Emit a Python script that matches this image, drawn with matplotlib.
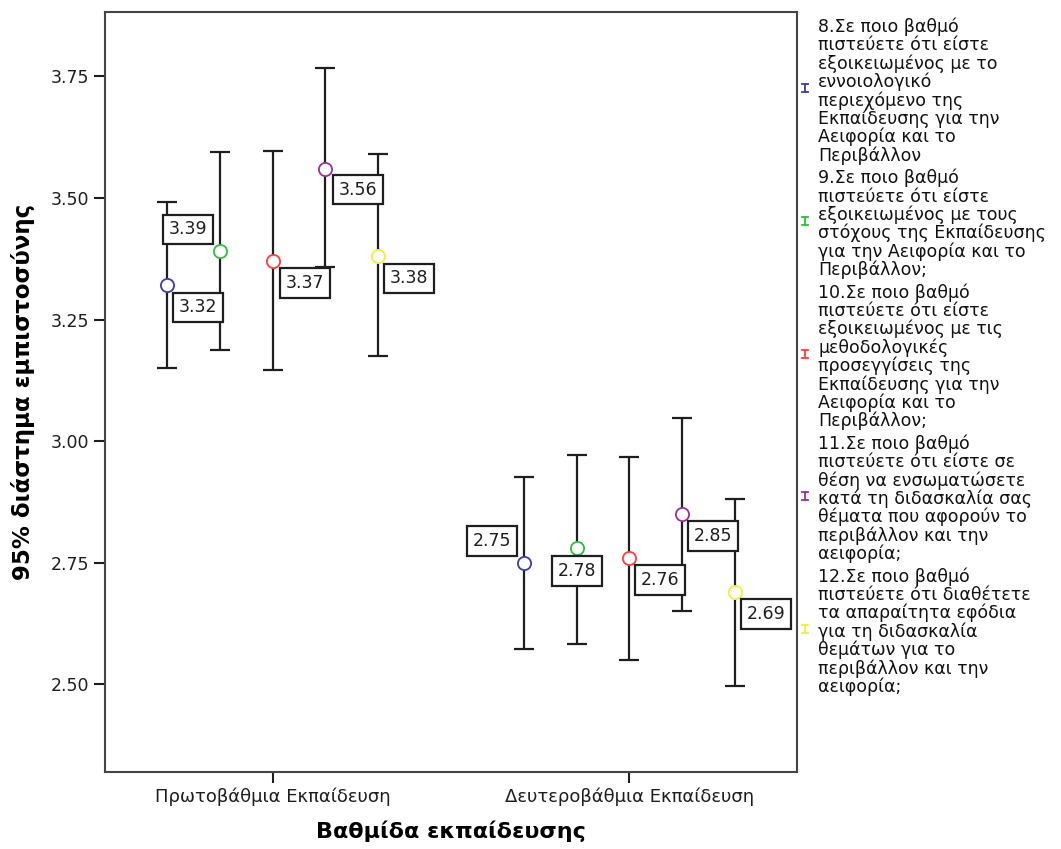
import matplotlib
matplotlib.use("Agg")
import matplotlib.pyplot as plt
from matplotlib.lines import Line2D
import numpy as np

# groups on the x axis
categories = ["Πρωτοβάθμια Εκπαίδευση", "Δευτεροβάθμια Εκπαίδευση"]

# means and 95% CI bounds, one list per question (primary, secondary)
means = {
    "q8":  [3.32, 2.75],
    "q9":  [3.39, 2.78],
    "q10": [3.37, 2.76],
    "q11": [3.56, 2.85],
    "q12": [3.38, 2.69],
}
ci_low = {
    "q8":  [3.150, 2.572],
    "q9":  [3.187, 2.584],
    "q10": [3.146, 2.551],
    "q11": [3.357, 2.650],
    "q12": [3.174, 2.496],
}
ci_high = {
    "q8":  [3.491, 2.926],
    "q9":  [3.594, 2.971],
    "q10": [3.596, 2.967],
    "q11": [3.766, 3.047],
    "q12": [3.590, 2.882],
}

legend_labels = {
    "q8": "8.Σε ποιο βαθμό\nπιστεύετε ότι είστε\nεξοικειωμένος με το\nεννοιολογικό\nπεριεχόμενο της\nΕκπαίδευσης για την\nΑειφορία και το\nΠεριβάλλον",
    "q9": "9.Σε ποιο βαθμό\nπιστεύετε ότι είστε\nεξοικειωμένος με τους\nστόχους της Εκπαίδευσης\nγια την Αειφορία και το\nΠεριβάλλον;",
    "q10": "10.Σε ποιο βαθμό\nπιστεύετε ότι είστε\nεξοικειωμένος με τις\nμεθοδολογικές\nπροσεγγίσεις της\nΕκπαίδευσης για την\nΑειφορία και το\nΠεριβάλλον;",
    "q11": "11.Σε ποιο βαθμό\nπιστεύετε ότι είστε σε\nθέση να ενσωματώσετε\nκατά τη διδασκαλία σας\nθέματα που αφορούν το\nπεριβάλλον και την\nαειφορία;",
    "q12": "12.Σε ποιο βαθμό\nπιστεύετε ότι διαθέτετε\nτα απαραίτητα εφόδια\nγια τη διδασκαλία\nθεμάτων για το\nπεριβάλλον και την\nαειφορία;",
}

colors = {"q8": "#3c3ca6", "q9": "#2ebd3c", "q10": "#ff3b3b",
          "q11": "#9a2f9a", "q12": "#f2ee3a"}

# where each value box sits relative to its point (pixels), per question / group
label_offsets = {
    "q8":  [(31, -22), (-32, 22)],
    "q9":  [(-32, 22), (0, -23)],
    "q10": [(32, -22), (31, -22)],
    "q11": [(33, -21), (31, -22)],
    "q12": [(31, -22), (31, -22)],
}

W, H = 1061, 849
fig = plt.figure(figsize=(W / 100, H / 100), dpi=100)
ax = fig.add_axes([105 / W, 1 - 772 / H, (797 - 105) / W, (772 - 12) / H])

keys = list(means.keys())
x = np.arange(len(categories))
step = 0.148

for i, k in enumerate(keys):
    xs = x + (i - 2) * step
    m = np.array(means[k])
    lo = m - np.array(ci_low[k])
    hi = np.array(ci_high[k]) - m
    ax.errorbar(xs, m, yerr=[lo, hi], fmt="none", ecolor="#1e1e1e",
                elinewidth=1.6, capsize=7, capthick=1.6, zorder=2)
    ax.plot(xs, m, "o", mfc="white", mec=colors[k], mew=1.3, ms=9.5, zorder=3)
    for j in range(len(categories)):
        dx, dy = label_offsets[k][j]
        ax.annotate(f"{m[j]:.2f}", (xs[j], m[j]), xytext=(dx, dy),
                    textcoords="offset pixels", ha="center", va="center",
                    fontsize=12.5, color="#1e1e1e", zorder=4,
                    bbox=dict(boxstyle="square,pad=0.33", fc="white",
                              ec="#1e1e1e", lw=1.6))

ax.set_xlim(-0.47, 1.47)
ax.set_ylim(2.32, 3.882)
ax.set_yticks(np.arange(2.5, 3.76, 0.25))
ax.set_yticklabels([f"{v:.2f}" for v in np.arange(2.5, 3.76, 0.25)])
ax.set_xticks(x)
ax.set_xticklabels(categories)
ax.tick_params(axis="both", direction="out", length=8, width=1.5,
               labelsize=12.5, colors="#1e1e1e")
ax.tick_params(axis="x", labelsize=13)
for s in ax.spines.values():
    s.set_linewidth(1.5)
    s.set_color("#444444")

ax.set_ylabel("95% διάστημα εμπιστοσύνης", fontsize=16.5, fontweight="bold",
              labelpad=11)
ax.set_xlabel("Βαθμίδα εκπαίδευσης", fontsize=16, fontweight="bold",
              labelpad=10)

# legend drawn by hand: small colored I-bar + wrapped question text,
# one text per line so the line pitch matches the original
line_h = 18.4
gap = 4
base = 32
for k in keys:
    lines = legend_labels[k].split("\n")
    first = base
    for ln in lines:
        fig.text(818 / W, 1 - base / H, ln, ha="left", va="baseline",
                 fontsize=12.5, color="#111111")
        base += line_h
    yc = (first + base - line_h) / 2 - 8
    fig.add_artist(Line2D([805 / W] * 2, [1 - (yc - 4) / H, 1 - (yc + 4) / H],
                          color=colors[k], lw=1.3))
    for yy in (yc - 4, yc + 4):
        fig.add_artist(Line2D([802 / W, 808 / W], [1 - yy / H] * 2,
                              color=colors[k], lw=1.3))
    base += gap

fig.savefig("out.png", dpi=100)
